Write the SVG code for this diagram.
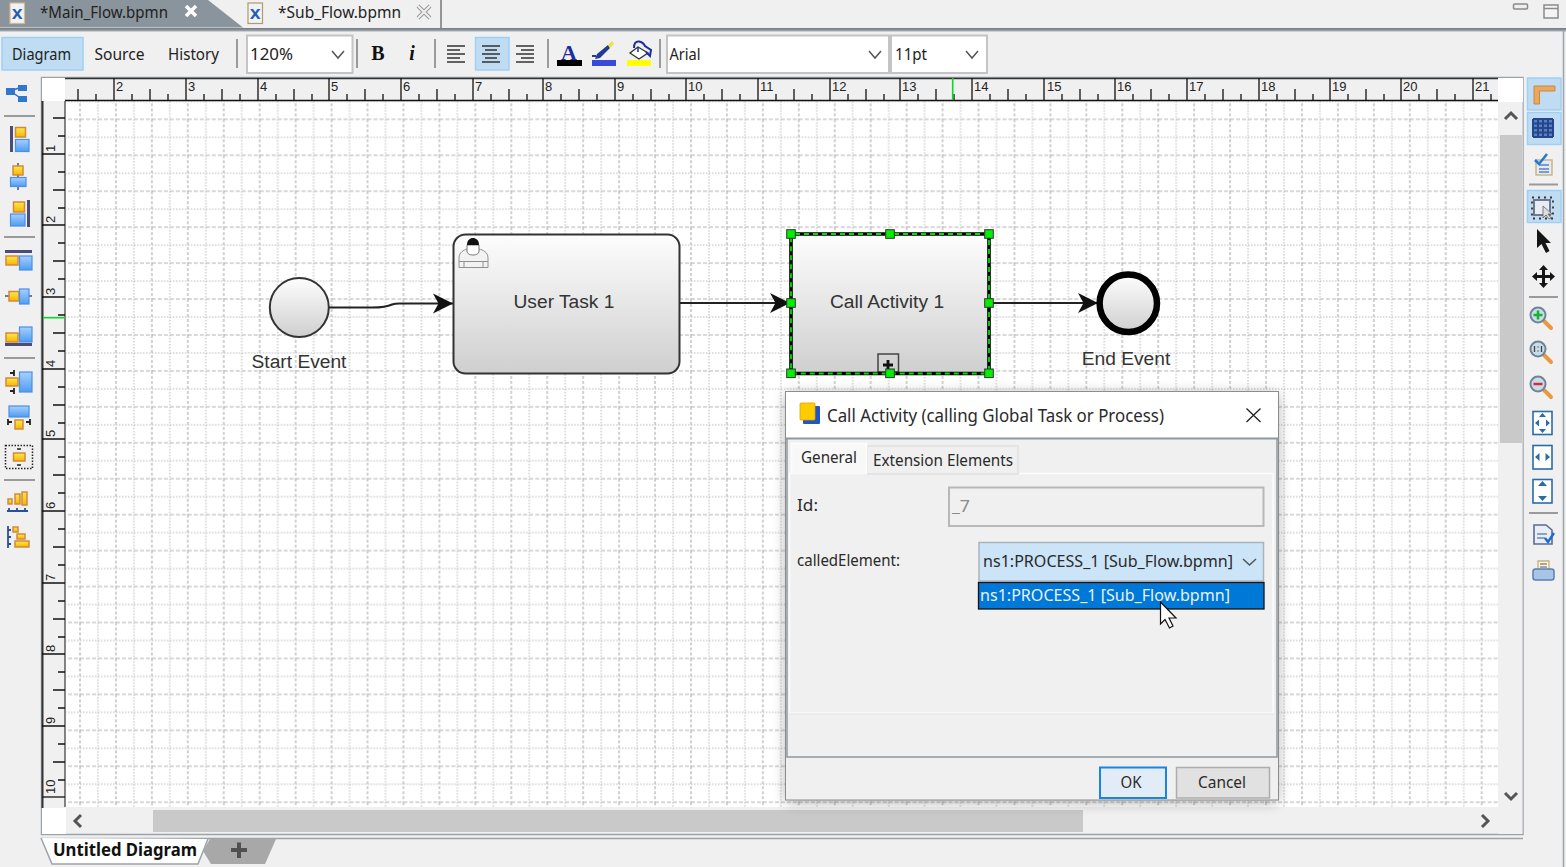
<svg xmlns="http://www.w3.org/2000/svg" width="1566" height="867" viewBox="0 0 1566 867">
<style>
.ui{font-family:"Noto Sans","DejaVu Sans",sans-serif;font-size:16px;fill:#222}
.dlg{font-family:"Noto Sans","DejaVu Sans",sans-serif;font-size:16px;fill:#2a2a2a}
.bp{font-family:"Liberation Sans",Arial,sans-serif;font-size:19.2px;fill:#333;text-anchor:middle}
.rl{font-family:"Liberation Sans",Arial,sans-serif;font-size:13px;fill:#222}
.tick{stroke:#111;stroke-width:1.3;fill:none}
.sep{stroke:#9a9a9a;stroke-width:2}
.cmb{fill:#fff;stroke:#c4c4c4;stroke-width:2}
.chev{fill:none;stroke:#555;stroke-width:1.5}
.sel{fill:#bfdcf3;stroke:#9ed0f6;stroke-width:1.5}
.y{fill:url(#gy);stroke:#d08a3c;stroke-width:1.5}
.b{fill:url(#gb);stroke:#4a90e8;stroke-width:1.2}
.bar{fill:#4c4c78}
.ln{stroke:#4c4c78;stroke-width:1.5;fill:none}
.flow{fill:none;stroke:#222;stroke-width:2;}
.h{fill:#00f000;stroke:#333;stroke-width:1}
.fit{fill:#fff;stroke:#2a6ca8;stroke-width:1.6}
.fa{fill:#2a6ca8}
.gl{fill:#c8dcea;stroke:#6f8494;stroke-width:2}
.hd{stroke:#e89a3c;stroke-width:4;stroke-linecap:round}
</style>
<defs>
<linearGradient id="gn" x1="0" y1="0" x2="0" y2="1"><stop offset="0" stop-color="#fdfdfd"/><stop offset="1" stop-color="#cfcfcf"/></linearGradient>
<linearGradient id="gy" x1="0" y1="0" x2="0" y2="1"><stop offset="0" stop-color="#ffe84a"/><stop offset="1" stop-color="#f7b500"/></linearGradient>
<linearGradient id="gb" x1="0" y1="0" x2="0" y2="1"><stop offset="0" stop-color="#a8d0ff"/><stop offset="1" stop-color="#4f9cf0"/></linearGradient>
<linearGradient id="gt" x1="0" y1="0" x2="0" y2="1"><stop offset="0" stop-color="#6f787f"/><stop offset="1" stop-color="#a9b0b6"/></linearGradient>
<filter id="sh" x="-10%" y="-10%" width="120%" height="120%"><feGaussianBlur stdDeviation="7"/></filter>
<pattern id="grid" patternUnits="userSpaceOnUse" x="80" y="83.4" width="35.94" height="35.94">
<path d="M0 0V35.94M35.94 0V35.94" stroke="#b2b2b2" stroke-width="1.2" stroke-dasharray="3 2" fill="none"/>
<path d="M17.97 0V35.94" stroke="#b8b8b8" stroke-width="1" stroke-dasharray="1.500 1.500" fill="none"/>
<path d="M0 17.97H35.94" stroke="#b8b8b8" stroke-width="1" stroke-dasharray="1.500 1.500" fill="none"/>
<path d="M0 0H35.94M0 35.94H35.94" stroke="#b2b2b2" stroke-width="1.200" stroke-dasharray="4 2" fill="none"/>
</pattern>
<g id="ht"><path class="tick" d="M0 78V100M18 94V100M36 89V100M54 94V100"/></g>
<g id="vt"><path class="tick" d="M42 0H65M58 18H65M53 36H65M58 54H65"/></g>
<marker id="ar" markerUnits="userSpaceOnUse" markerWidth="22" markerHeight="22" refX="20" refY="10" orient="auto" viewBox="0 0 22 20"><path d="M0 0L20 10L0 20L5.500 10Z" fill="#111"/></marker>
</defs>

<rect width="1566" height="867" fill="#f0f0f0"/>

<g id="top-tabs">
<path d="M0 0H208L243 27.500H0Z" fill="#8a949c"/>
<rect x="0" y="28" width="1566" height="3.500" fill="url(#gt)"/>
<path d="M441 0V28" stroke="#777" stroke-width="1.500"/>
<rect x="10" y="3" width="14.500" height="20.500" fill="#eef2fa" stroke="#d8b884" stroke-width="1.200"/>
<text x="11.500" y="19" style="font:bold 19px 'Liberation Mono',monospace;fill:#2b5ca8">x</text>
<text class="ui" x="40" y="18" textLength="128" lengthAdjust="spacingAndGlyphs">*Main_Flow.bpmn</text>
<path d="M186 6L196 16M196 6L186 16" stroke="#fff" stroke-width="3.500"/>
<rect x="248" y="3" width="14.500" height="20.500" fill="#eef2fa" stroke="#b49a64" stroke-width="1.200"/>
<text x="249.500" y="19" style="font:bold 19px 'Liberation Mono',monospace;fill:#2b5ca8">x</text>
<text class="ui" x="278" y="18" textLength="123" lengthAdjust="spacingAndGlyphs">*Sub_Flow.bpmn</text>
<path d="M418 6L430 18M430 6L418 18" stroke="#999" stroke-width="4"/><path d="M418 6L430 18M430 6L418 18" stroke="#f0f0f0" stroke-width="2"/>
<rect x="1513.500" y="4" width="14" height="5" rx="1" fill="#eee" stroke="#8a8a8a" stroke-width="1.500"/>
<path d="M1544 5H1558V18H1544ZM1544 8.500H1558" fill="#f4f4f4" stroke="#8a8a8a" stroke-width="1.500"/>
</g>

<g id="toolbar">
<rect class="sel" x="2" y="37.500" width="81" height="32.500"/>
<text class="ui" x="12" y="59.500" textLength="59" lengthAdjust="spacingAndGlyphs">Diagram</text>
<text class="ui" x="94.500" y="59.500" textLength="50" lengthAdjust="spacingAndGlyphs">Source</text>
<text class="ui" x="168" y="59.500" textLength="51" lengthAdjust="spacingAndGlyphs">History</text>
<path class="sep" d="M237 39V68M357 39V68M435 39V68M548 39V68M660 39V68"/>
<rect class="cmb" x="247" y="35.500" width="105.500" height="37.500"/>
<text class="ui" x="250" y="59.500" textLength="43" lengthAdjust="spacingAndGlyphs">120%</text>
<path class="chev" d="M332 51L338 58L344 51"/>
<text x="378" y="60" text-anchor="middle" style="font:bold 20px 'Liberation Serif',serif;fill:#111">B</text>
<text x="412" y="60" text-anchor="middle" style="font:italic bold 20px 'Liberation Serif',serif;fill:#111">i</text>
<path d="M447 46H465M447 50H460M447 54H465M447 58H460M447 62H465" stroke="#333" stroke-width="1.500"/>
<rect class="sel" x="475.500" y="37.500" width="33.500" height="32.500"/>
<path d="M482 46H500M485 50H497M482 54H500M485 58H497M482 62H500" stroke="#333" stroke-width="1.500"/>
<path d="M516 46H534M521 50H534M516 54H534M521 58H534M516 62H534" stroke="#333" stroke-width="1.500"/>
<text x="569" y="60" text-anchor="middle" style="font:bold 22px 'Liberation Serif',serif;fill:#1c2d9c">A</text>
<rect x="557" y="60" width="25" height="6" fill="#000"/>
<path d="M597 54L608 45L610 48L600 58L595 59Z" fill="#223a90"/><path d="M608 45L612 41L614 44L610 48Z" fill="#f0e040"/><rect x="592" y="55" width="4" height="2" fill="#223a90"/>
<rect x="592" y="60" width="24" height="6" fill="#3a4bd8"/>
<path d="M638 47L648 53L639 59L630 53Z" fill="#fff" stroke="#333" stroke-width="1.300"/><path d="M634 48Q634 41 639 41.500Q643 42 645 46L651 50L650 56L646 52" fill="none" stroke="#1c2d9c" stroke-width="2"/><path d="M638 47V52" stroke="#1c2d9c" stroke-width="1.500"/>
<rect x="627" y="60" width="24" height="6" fill="#ffff00"/>
<rect class="cmb" x="667" y="35.500" width="222" height="37.500"/>
<text class="ui" x="669.500" y="59.500" textLength="31" lengthAdjust="spacingAndGlyphs">Arial</text>
<path class="chev" d="M869 51L875 58L881 51"/>
<rect class="cmb" x="891" y="35.500" width="96" height="37.500"/>
<text class="ui" x="895" y="59.500" textLength="32" lengthAdjust="spacingAndGlyphs">11pt</text>
<path class="chev" d="M966 51L972 58L978 51"/>
</g>

<g id="canvas-frame">
<rect x="41.500" y="77.500" width="1481.500" height="757" fill="#f0f0f0" stroke="#9aa3aa" stroke-width="1.500"/>
<rect x="42" y="78" width="23" height="23" fill="#fff"/>
<rect x="1498" y="78" width="25" height="24" fill="#fff"/>
<rect x="65" y="101" width="1433" height="706" fill="#fff"/>
<rect x="66" y="101" width="1432" height="706" fill="url(#grid)"/>
</g>

<g id="h-ruler">
<rect x="65" y="78.500" width="1433" height="22" fill="#f0f0f0"/>
<path d="M65 78.500H1498" stroke="#333" stroke-width="1.600"/>
<path d="M65 100.500H1498" stroke="#111" stroke-width="1.600"/>
<path class="tick" d="M78 89V100M96 94V100"/>
<use href="#ht" x="114"/><use href="#ht" x="186"/><use href="#ht" x="258"/><use href="#ht" x="329"/><use href="#ht" x="401"/><use href="#ht" x="473"/><use href="#ht" x="543"/><use href="#ht" x="615"/><use href="#ht" x="686"/><use href="#ht" x="758"/><use href="#ht" x="830"/><use href="#ht" x="900"/><use href="#ht" x="972"/><use href="#ht" x="1044"/><use href="#ht" x="1115"/><use href="#ht" x="1187"/><use href="#ht" x="1259"/><use href="#ht" x="1330"/><use href="#ht" x="1401"/>
<path class="tick" d="M1473 78V100M1491 94V100"/>
<path d="M952.700 78V100" stroke="#00e020" stroke-width="1.600"/>
<g class="rl">
<text x="116" y="91">2</text><text x="188" y="91">3</text><text x="260" y="91">4</text><text x="331" y="91">5</text><text x="403" y="91">6</text><text x="475" y="91">7</text><text x="545" y="91">8</text><text x="617" y="91">9</text><text x="688" y="91">10</text><text x="760" y="91">11</text><text x="832" y="91">12</text><text x="902" y="91">13</text><text x="974" y="91">14</text><text x="1047" y="91">15</text><text x="1117" y="91">16</text><text x="1189" y="91">17</text><text x="1261" y="91">18</text><text x="1332" y="91">19</text><text x="1403" y="91">20</text><text x="1475" y="91">21</text>
</g>
</g>

<g id="v-ruler">
<rect x="43" y="101" width="22" height="706" fill="#f0f0f0"/>
<path d="M42.500 101V808" stroke="#333" stroke-width="2"/>
<path d="M65 101V807" stroke="#444" stroke-width="1.300"/>
<path class="tick" d="M53 118H65M58 136H65"/>
<use href="#vt" y="154"/><use href="#vt" y="225"/><use href="#vt" y="297"/><use href="#vt" y="369"/><use href="#vt" y="439"/><use href="#vt" y="511"/><use href="#vt" y="583"/><use href="#vt" y="654"/><use href="#vt" y="726"/>
<path class="tick" d="M42 797H65"/>
<path d="M43 317.700H65" stroke="#00e020" stroke-width="1.600"/>
<g class="rl">
<text transform="translate(55,152) rotate(-90)">1</text><text transform="translate(55,223) rotate(-90)">2</text><text transform="translate(55,295) rotate(-90)">3</text><text transform="translate(55,367) rotate(-90)">4</text><text transform="translate(55,437) rotate(-90)">5</text><text transform="translate(55,509) rotate(-90)">6</text><text transform="translate(55,581) rotate(-90)">7</text><text transform="translate(55,652) rotate(-90)">8</text><text transform="translate(55,724) rotate(-90)">9</text><text transform="translate(55,794) rotate(-90)">10</text>
</g>
</g>

<g id="scrollbars">
<rect x="42" y="808" width="24" height="26" fill="#fff"/>
<rect x="66" y="810" width="1431" height="23" fill="#f0f0f0"/>
<rect x="153" y="810" width="930" height="22" fill="#c9c9c9"/>
<path d="M81 815L75 821L81 827" fill="none" stroke="#555" stroke-width="3"/>
<path d="M1482 815L1488 821L1482 827" fill="none" stroke="#555" stroke-width="3"/>
<rect x="1498" y="102" width="24.500" height="732" fill="#f0f0f0"/>
<rect x="1500" y="135" width="22" height="308" fill="#c9c9c9"/>
<path d="M1505 119L1511 113L1517 119" fill="none" stroke="#555" stroke-width="3"/>
<path d="M1505 793L1511 799L1517 793" fill="none" stroke="#555" stroke-width="3"/>
<path d="M41 838.500H1523" stroke="#9aa3aa" stroke-width="1.500"/>
<path d="M1563.500 30V867" stroke="#9aa3aa" stroke-width="1.500"/>
</g>

<g id="left-toolbar">
<path d="M10 91L22 87M10 91L22 99" stroke="#2a6fc0" stroke-width="1.500"/>
<rect x="6" y="88" width="9" height="7" fill="#2e78d0"/><rect x="18" y="85" width="9" height="6" fill="#2e78d0"/><rect x="18" y="96" width="9" height="6" fill="#2e78d0"/>
<path class="sep" d="M4 116H35M4 237H35M4 358H35M4 480H35"/>
<rect class="bar" x="10" y="126" width="3" height="26"/><rect class="y" x="15.500" y="127.500" width="10" height="9.500"/><rect class="b" x="15.500" y="139.500" width="13.500" height="12"/>
<path class="ln" d="M18 163V190"/><rect class="y" x="13" y="166" width="10" height="9"/><rect class="b" x="10.500" y="177.500" width="15.500" height="9"/>
<rect class="bar" x="27" y="200" width="3" height="27"/><rect class="y" x="13.500" y="202" width="11" height="10"/><rect class="b" x="10.500" y="214" width="14.500" height="12"/>
<rect class="bar" x="5" y="250" width="27" height="3"/><rect class="y" x="6" y="256" width="12" height="9"/><rect class="b" x="19.500" y="256" width="12.500" height="14"/>
<path class="ln" d="M5 296H32"/><rect class="y" x="9" y="291.500" width="10" height="9.500"/><rect class="b" x="19.500" y="289" width="9.500" height="15"/>
<rect class="bar" x="5" y="343" width="27" height="3"/><rect class="y" x="6" y="333" width="12" height="9"/><rect class="b" x="19.500" y="327" width="12.500" height="15"/>
<rect class="y" x="6" y="378" width="12" height="8"/><rect class="b" x="19.500" y="372" width="12.500" height="20"/>
<path d="M10 373H14M14 370V376M10 391H14M14 388V394" stroke="#222" stroke-width="1.800"/>
<rect class="b" x="9" y="406" width="20" height="11"/><rect class="y" x="15" y="420" width="8" height="9"/>
<path d="M8 422H12M26 422H30M8 419V425M30 419V425" stroke="#222" stroke-width="1.800"/>
<rect x="5.500" y="445.500" width="27" height="23" fill="none" stroke="#222" stroke-width="1.500" stroke-dasharray="1.500 1.500"/><rect class="y" x="13.500" y="453" width="11.500" height="8"/>
<path d="M17 449H21M17 465H21" stroke="#222" stroke-width="1.500"/>
<rect class="y" x="8" y="499" width="4" height="5"/><rect class="y" x="15" y="494" width="5" height="10"/><rect class="y" x="22" y="492" width="5" height="13"/>
<path d="M7 511H28M9 508V511M17 508V511M25 508V511" stroke="#2a4f98" stroke-width="1.800"/>
<rect class="y" x="13" y="527" width="5" height="5"/><rect class="y" x="17" y="534" width="8" height="5"/><rect class="y" x="15" y="541" width="14" height="6"/>
<path d="M8 526V548M8 530H11M8 537H11M8 544H11" stroke="#2a4f98" stroke-width="1.800"/>
</g>

<g id="right-toolbar">
<rect class="sel" x="1527.500" y="78" width="33.500" height="32"/>
<rect class="sel" x="1527.500" y="112.500" width="33.500" height="32"/>
<rect class="sel" x="1527.500" y="190.500" width="33.500" height="32"/>
<path d="M1534 86H1555V91H1539.500V104H1534Z" fill="#e9a860" stroke="#c98840" stroke-width="1"/>
<path d="M1533 119H1553V137H1533Z" fill="#5b7fc0"/>
<path d="M1533 119H1553M1533 123.500H1553M1533 128H1553M1533 132.500H1553M1533 137H1553M1533 119V137M1538 119V137M1543 119V137M1548 119V137M1553 119V137" fill="none" stroke="#24478c" stroke-width="2"/>
<path d="M1536 160H1552V175H1536Z" fill="#e4e9f4" stroke="#c8b888" stroke-width="1.500"/>
<path d="M1539 165H1549M1539 169H1549M1539 172H1549" stroke="#5a80c0" stroke-width="1.300"/>
<path d="M1535 160L1539 164L1547 154" fill="none" stroke="#1c7ad8" stroke-width="2.500"/>
<path class="sep" d="M1529 184.500H1558M1529 297H1558M1529 513H1558"/>
<rect x="1534" y="200" width="16" height="15" fill="#e8edf4" stroke="#6a6a88" stroke-width="1.800"/>
<rect x="1532" y="197.500" width="21" height="21" fill="none" stroke="#333" stroke-width="1.800" stroke-dasharray="2 4"/>
<path d="M1543 206V218L1546 215L1549 219L1551 218L1548 214H1552Z" fill="#ddd" stroke="#666" stroke-width=".8"/>
<path d="M1537 229V248L1541.500 244L1546 253L1549.500 251L1545.500 243H1551Z" fill="#151515"/>
<path d="M1543.500 265L1548 270H1545V275H1550V272L1555 276.500L1550 281V278H1545V283H1548L1543.500 288L1539 283H1542V278H1537V281L1532 276.500L1537 272V275H1542V270H1539Z" fill="#151515"/>
<path class="hd" d="M1544 321L1551 328"/><circle class="gl" cx="1538" cy="315" r="7.500"/><path d="M1533.500 315H1542.500M1538 310.500V319.500" stroke="#18b030" stroke-width="2.500"/>
<path class="hd" d="M1544 355L1551 362"/><circle class="gl" cx="1538" cy="349" r="7.500"/><path d="M1534.500 346V352M1541.500 346V352M1538 346.500V347.500M1538 350.500V351.500" stroke="#444" stroke-width="1.300"/>
<path class="hd" d="M1544 390L1551 397"/><circle class="gl" cx="1538" cy="384" r="7.500"/><path d="M1533.500 384H1542.500" stroke="#d03030" stroke-width="2.500"/>
<rect class="fit" x="1533" y="411.500" width="19" height="23"/>
<path class="fa" d="M1542.500 413L1546 417H1539ZM1542.500 433L1546 429H1539ZM1535 423L1539 419.500V426.500ZM1550 423L1546 419.500V426.500Z"/>
<rect class="fit" x="1533" y="445.500" width="19" height="23.500"/>
<path class="fa" d="M1535 457L1539.500 453V461ZM1550 457L1545.500 453V461Z"/>
<rect class="fit" x="1533" y="479.500" width="19" height="23.500"/>
<path class="fa" d="M1542.500 481L1547 486H1538ZM1542.500 501L1547 496H1538Z"/>
<path d="M1534 525H1546L1552 530V544H1534Z" fill="#e8edf6" stroke="#5a6c90" stroke-width="1.600"/>
<path d="M1537 534H1547M1537 538H1545" stroke="#8ca0c8" stroke-width="1.800"/>
<path d="M1545 538L1548 542L1554 533" fill="none" stroke="#1c6ad0" stroke-width="2.400"/>
<path d="M1538 561H1549V570H1538Z" fill="#fbf6e6" stroke="#c8b080" stroke-width="1.300"/>
<path d="M1540 564H1547M1540 567H1547" stroke="#555" stroke-width="1"/>
<rect x="1533" y="569" width="21" height="11" rx="2.500" fill="#aac4e8" stroke="#5a80b0" stroke-width="1.500"/>
</g>

<g id="connectors">
<path class="flow" marker-end="url(#ar)" d="M329 307.500H372C384 307.500 388 306.500 392 304.500C394 303.700 396 303.500 400 303.500H453"/>
<path class="flow" marker-end="url(#ar)" d="M680 303H790"/>
<path class="flow" marker-end="url(#ar)" d="M990 303H1098"/>
</g>

<g id="start-event">
<circle cx="299.300" cy="307.500" r="29.500" fill="url(#gn)" stroke="#333" stroke-width="2"/>
<text class="bp" x="299" y="368">Start Event</text>
</g>
<g id="user-task">
<rect x="453.500" y="234.500" width="226" height="139" rx="12" fill="url(#gn)" stroke="#333" stroke-width="2"/>
<text class="bp" x="564" y="308">User Task 1</text>
<path d="M459 267.500V258C459 252 464 250 467 249H479C483 250 488 252 488 258V267.500ZM464 262V267M483 262V267M459 261.500H488" fill="#f2f2f2" stroke="#909090" stroke-width="1"/>
<path d="M467 245H479V251C479 254 476 255 473 255C470 255 467 254 467 251Z" fill="#fff" stroke="#777" stroke-width="1"/>
<path d="M467 245C467 240 470 238 473 238C476 238 479 240 479 245Z" fill="#111"/>
</g>
<g id="call-activity">
<rect x="791" y="234.500" width="198" height="139" rx="12" fill="url(#gn)"/>
<text class="bp" x="887" y="308">Call Activity 1</text>
<rect x="878" y="354" width="20.500" height="18" fill="none" stroke="#444" stroke-width="1.500"/>
<path d="M883 365H893M888 360V371" stroke="#111" stroke-width="2.800"/>
<rect x="791" y="234" width="198" height="139.500" rx="4" fill="none" stroke="#000" stroke-width="3.600"/>
<rect x="791" y="234" width="198" height="139.500" rx="4" fill="none" stroke="#00e000" stroke-width="1.800" stroke-dasharray="5 4"/>
<rect class="h" x="786.700" y="229.700" width="8.600" height="8.600"/><rect class="h" x="885.700" y="229.700" width="8.600" height="8.600"/><rect class="h" x="984.700" y="229.700" width="8.600" height="8.600"/>
<rect class="h" x="786.700" y="298.700" width="8.600" height="8.600"/><rect class="h" x="984.700" y="298.700" width="8.600" height="8.600"/>
<rect class="h" x="786.700" y="369" width="8.600" height="8.600"/><rect class="h" x="885.700" y="369" width="8.600" height="8.600"/><rect class="h" x="984.700" y="369" width="8.600" height="8.600"/>
</g>
<g id="end-event">
<circle cx="1128.300" cy="303.300" r="28.700" fill="url(#gn)" stroke="#000" stroke-width="6.500"/>
<text class="bp" x="1126" y="365">End Event</text>
</g>

<g id="dialog">
<rect x="786" y="394" width="492" height="408" fill="#000" opacity=".32" filter="url(#sh)"/>
<rect x="785.500" y="391.500" width="493" height="408.500" fill="#f0f0f0" stroke="#8c8c8c" stroke-width="1"/>
<rect x="786" y="392" width="492" height="46.500" fill="#fff"/>
<path d="M786 438.500H1278" stroke="#8d98a0" stroke-width="2"/>
<path d="M787 439V757H1277V439" fill="none" stroke="#8d98a0" stroke-width="1.500"/>
<rect x="803" y="406" width="17" height="18" rx="1" fill="#1f55c4"/>
<rect x="800" y="403" width="15" height="17" rx="1" fill="#ffcc00" stroke="#e0a000" stroke-width=".8"/>
<text class="dlg" x="827" y="422" style="font-size:18px" textLength="337" lengthAdjust="spacingAndGlyphs">Call Activity (calling Global Task or Process)</text>
<path d="M1246.500 408.500L1260.500 422M1260.500 408.500L1246.500 422" stroke="#222" stroke-width="1.300"/>
<rect x="789.500" y="473.500" width="483.500" height="239.500" fill="#f0f0f0" stroke="#fbfbfb" stroke-width="1.500"/>
<path d="M789 714H1274" stroke="#e2e2e2"/>
<rect x="867" y="446" width="151" height="28" fill="#f0f0f0" stroke="#e0e0e0" stroke-width="1.500"/>
<path d="M791.500 474V443.500H866.500V474" fill="#f8f8f8" stroke="#fdfdfd" stroke-width="1.500"/>
<text class="dlg" x="801" y="463" textLength="56" lengthAdjust="spacingAndGlyphs">General</text>
<text class="dlg" x="873" y="466" textLength="140" lengthAdjust="spacingAndGlyphs">Extension Elements</text>
<text class="dlg" x="797" y="511" textLength="21" lengthAdjust="spacingAndGlyphs">Id:</text>
<rect x="949" y="487.500" width="314.500" height="38.500" fill="#f0f0f0" stroke="#b8b8b8" stroke-width="2"/>
<text class="dlg" x="952" y="512" style="fill:#8a8a8a" textLength="18" lengthAdjust="spacingAndGlyphs">_7</text>
<text class="dlg" x="797" y="566" textLength="103" lengthAdjust="spacingAndGlyphs">calledElement:</text>
<rect x="979" y="542.500" width="284.500" height="38.500" fill="#cce4f7" stroke="#a8b4bc" stroke-width="1.500"/>
<text class="dlg" x="983" y="567" textLength="250" lengthAdjust="spacingAndGlyphs">ns1:PROCESS_1 [Sub_Flow.bpmn]</text>
<path class="chev" d="M1243 559L1249.500 565L1256 559"/>
<rect x="978.500" y="582.500" width="285.500" height="26.500" fill="#0078d7" stroke="#111" stroke-width="1.300"/>
<text class="dlg" x="980" y="601" style="fill:#e6f2fb" textLength="250" lengthAdjust="spacingAndGlyphs">ns1:PROCESS_1 [Sub_Flow.bpmn]</text>
<path d="M1160.500 602V624L1165 619.500L1169.500 628L1173 626L1169 618H1176Z" fill="#fff" stroke="#111" stroke-width="1.200"/>
<rect x="1100" y="767.500" width="66" height="30.500" fill="#e1ecf6" stroke="#1a84e0" stroke-width="2"/>
<text class="dlg" x="1131" y="788" text-anchor="middle" textLength="21" lengthAdjust="spacingAndGlyphs">OK</text>
<rect x="1176.500" y="767.500" width="93" height="30.500" fill="#e1e1e1" stroke="#adadad" stroke-width="1.500"/>
<text class="dlg" x="1222" y="788" text-anchor="middle" textLength="48" lengthAdjust="spacingAndGlyphs">Cancel</text>
</g>

<g id="bottom-tabs">
<path d="M41 838L52 864H198L208 839" fill="#fff" stroke="#9aa3aa" stroke-width="1.500"/>
<text class="ui" x="53" y="856" style="font-weight:700;font-size:18px;fill:#111" textLength="144" lengthAdjust="spacingAndGlyphs">Untitled Diagram</text>
<path d="M210 839H276L265 864H211L203 851Z" fill="#a8a8a8"/>
<path d="M231 850H247M239 842.500V858" stroke="#505050" stroke-width="4"/>
</g>
</svg>
